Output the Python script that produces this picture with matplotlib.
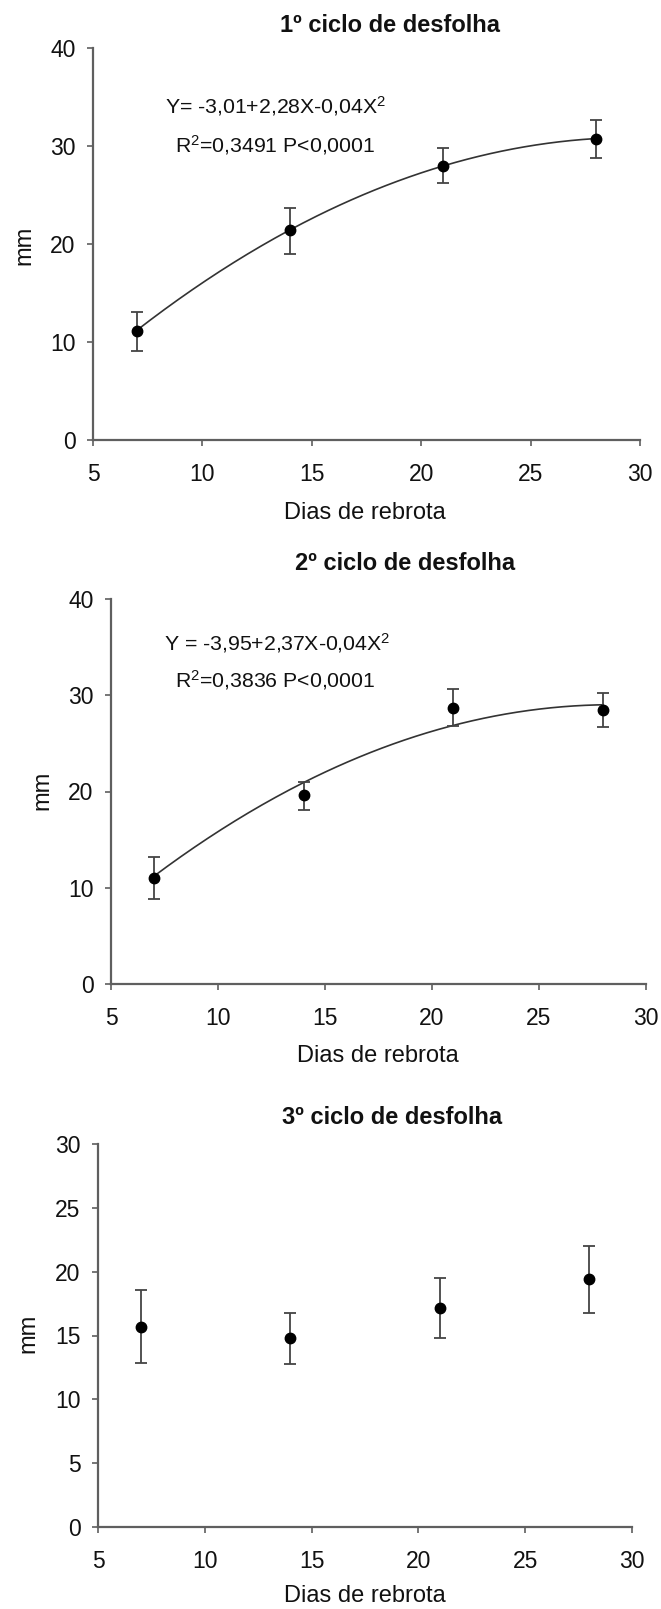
import numpy as np
import matplotlib
matplotlib.use("Agg")
import matplotlib.pyplot as plt

plt.rcParams['font.family'] = ['Liberation Sans', 'DejaVu Sans']
plt.rcParams['mathtext.fontset'] = 'custom'
plt.rcParams['mathtext.rm'] = 'Liberation Sans'
plt.rcParams['mathtext.it'] = 'Liberation Sans'

# ---------------- data ----------------
dias = [7, 14, 21, 28]

titles = ["1º ciclo de desfolha", "2º ciclo de desfolha", "3º ciclo de desfolha"]

c1_mean = [11.1, 21.4, 28.0, 30.75]
c1_low = [9.1, 19.0, 26.2, 28.8]
c1_high = [13.1, 23.7, 29.75, 32.7]
c1_curve = [11.2, 21.4, 28.0, 30.75]

c2_mean = [11.0, 19.6, 28.7, 28.5]
c2_low = [8.85, 18.1, 26.8, 26.65]
c2_high = [13.2, 21.0, 30.6, 30.2]
c2_curve = [11.2, 20.9, 26.9, 29.0]

c3_mean = [15.7, 14.8, 17.15, 19.4]
c3_low = [12.85, 12.8, 14.8, 16.8]
c3_high = [18.55, 16.8, 19.5, 22.0]

eq1 = ["Y= -3,01+2,28X-0,04X$^{2}$", "R$^{2}$=0,3491 P<0,0001"]
eq2 = ["Y = -3,95+2,37X-0,04X$^{2}$", "R$^{2}$=0,3836 P<0,0001"]

xlabel = "Dias de rebrota"
ylabel = "mm"

xticks = [5, 10, 15, 20, 25, 30]
yticks_12 = [0, 10, 20, 30, 40]
yticks_3 = [0, 5, 10, 15, 20, 25, 30]

# ---------------- figure ----------------
W, H = 661, 1609
fig = plt.figure(figsize=(W / 100, H / 100), dpi=100)

def px_axes(l, r, t, b):
    return fig.add_axes([l / W, 1 - b / H, (r - l) / W, (b - t) / H])

SPINE = '#5f5f5f'
TXT = '#111111'

def style(ax, yticks):
    ax.set_xlim(5, 30)
    ax.set_ylim(yticks[0], yticks[-1])
    ax.set_xticks(xticks)
    ax.set_yticks(yticks)
    for s in ['top', 'right']:
        ax.spines[s].set_visible(False)
    for s in ['left', 'bottom']:
        ax.spines[s].set_color(SPINE)
        ax.spines[s].set_linewidth(1.6)
    ax.tick_params(axis='both', direction='out', length=4.5, width=1.2,
                   color=SPINE, labelsize=16.5, labelcolor=TXT)
    ax.tick_params(axis='x', pad=12)
    ax.tick_params(axis='y', pad=8)
    ax.patch.set_alpha(0)

def draw(ax, mean, low, high, curve=None):
    mean = np.array(mean)
    yerr = [mean - np.array(low), np.array(high) - mean]
    if curve is not None:
        coef = np.polyfit(dias, curve, 2)
        xs = np.linspace(dias[0], dias[-1], 200)
        ax.plot(xs, np.polyval(coef, xs), color='#333333', lw=1.2, zorder=2)
    ax.errorbar(dias, mean, yerr=yerr, fmt='o', color='black', ms=7.5,
                ecolor='#444444', elinewidth=1.3, capsize=4.2, capthick=1.3,
                zorder=3)

ax1 = px_axes(93, 640, 48, 440)
style(ax1, yticks_12)
draw(ax1, c1_mean, c1_low, c1_high, c1_curve)

ax2 = px_axes(111, 646, 599, 984)
style(ax2, yticks_12)
draw(ax2, c2_mean, c2_low, c2_high, c2_curve)

ax3 = px_axes(98, 632, 1144, 1527)
style(ax3, yticks_3)
draw(ax3, c3_mean, c3_low, c3_high)

def ftext(x, y, s, **kw):
    fig.text(x / W, 1 - y / H, s, ha='center', va='center', color=TXT, **kw)

# titles
ftext(390, 25, titles[0], fontsize=17, fontweight='bold')
ftext(405, 563, titles[1], fontsize=17, fontweight='bold')
ftext(392, 1118, titles[2], fontsize=17, fontweight='bold')

# x labels
ftext(365, 513, xlabel, fontsize=17)
ftext(378, 1056, xlabel, fontsize=17)
ftext(365, 1596, xlabel, fontsize=17)

# y labels
ftext(24, 245, ylabel, fontsize=17, rotation=90)
ftext(42, 790, ylabel, fontsize=17, rotation=90)
ftext(28, 1333, ylabel, fontsize=17, rotation=90)

# equations
ftext(276, 106, eq1[0], fontsize=15.3)
ftext(275, 145, eq1[1], fontsize=15.3)
ftext(277, 643, eq2[0], fontsize=15.3)
ftext(275, 680, eq2[1], fontsize=15.3)

fig.savefig("out.png", dpi=100, facecolor='white')
